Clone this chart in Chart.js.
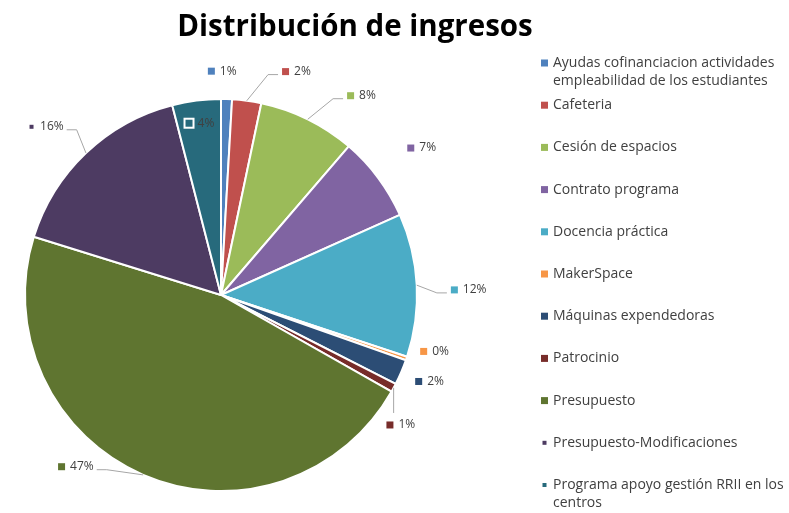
<!DOCTYPE html>
<html>
<head>
<meta charset="utf-8">
<script src="https://cdn.jsdelivr.net/npm/chart.js@4.4.0/dist/chart.umd.min.js"></script>
<style>
	html, body { margin: 0; padding: 0; background: #fff; }
	#wrap { width: 789px; height: 513px; position: relative; }
</style>
</head>
<body>
<div id="wrap"><canvas id="chart" width="789" height="513"></canvas></div>
<script>
const chartTitle = "Distribución de ingresos";

const categories = [
	"Ayudas cofinanciacion actividades empleabilidad de los estudiantes",
	"Cafeteria",
	"Cesión de espacios",
	"Contrato programa",
	"Docencia práctica",
	"MakerSpace",
	"Máquinas expendedoras",
	"Patrocinio",
	"Presupuesto",
	"Presupuesto-Modificaciones",
	"Programa apoyo gestión RRII en los centros",
];

// share of total income, in percent
const shares = [0.9, 2.4, 8.0, 7.0, 11.8, 0.3, 2.1, 0.7, 46.6, 16.2, 4.0];

const colors = [
	"#4f81bd", "#c0504d", "#9bbb59", "#8064a2", "#4bacc6", "#f79646",
	"#2c4d75", "#772c2a", "#5f7530", "#4d3b62", "#276a7c",
];

// label placement: [angle shift from slice middle (deg), distance / radius, leader]
// leader: 0 none, 1 to side of label, 2 to top of label, 3 inside slice
const labelLayout = [
	[-1.3, 1.142, 0],
	[11.1, 1.203, 1],
	[8.9, 1.244, 1],
	[0.5, 1.269, 0],
	[1.7, 1.264, 1],
	[-4.1, 1.127, 0],
	[-0.7, 1.152, 0],
	[7.6, 1.132, 2],
	[16.8, 1.147, 1],
	[-2.6, 1.239, 1],
	[0.2, 0.883, 3],
];

const textColor = "#404040";
const fontFamily = "'Open Sans', 'Liberation Sans', sans-serif";

const wrapText = (ctx, text, maxWidth) => {
	const words = text.split(" ");
	const lines = [];
	let line = "";
	words.forEach(w => {
		const test = line ? line + " " + w : w;
		if (ctx.measureText(test).width > maxWidth && line) {
			lines.push(line);
			line = w;
		} else {
			line = test;
		}
	});
	if (line) lines.push(line);
	return lines;
};

const decorPlugin = {
	id: "decor",
	afterDraw(chart) {
		const ctx = chart.ctx;
		ctx.save();

		// title
		ctx.fillStyle = "#000";
		ctx.font = `bold 29.5px ${fontFamily}`;
		ctx.textAlign = "center";
		ctx.textBaseline = "middle";
		ctx.fillText(chartTitle, 355, 28);

		// data labels
		const meta = chart.getDatasetMeta(0);
		const total = shares.reduce((a, b) => a + b, 0);
		ctx.font = `12px ${fontFamily}`;
		ctx.textBaseline = "middle";
		meta.data.forEach((arc, i) => {
			const { x, y, startAngle, endAngle, outerRadius } = arc.getProps(
				["x", "y", "startAngle", "endAngle", "outerRadius"], true);
			const mid = (startAngle + endAngle) / 2;
			const [shift, dist, leader] = labelLayout[i];
			const a = mid + shift * Math.PI / 180;
			const lx = x + Math.cos(a) * outerRadius * dist;
			const ly = y + Math.sin(a) * outerRadius * dist;
			const text = Math.round(shares[i] / total * 100) + "%";
			const tw = ctx.measureText(text).width;
			const box = 7, gap = 5;
			const gw = box + gap + tw;
			const left = lx - gw / 2;

			if (leader === 1 || leader === 2) {
				const ex = x + Math.cos(mid) * outerRadius;
				const ey = y + Math.sin(mid) * outerRadius;
				ctx.strokeStyle = "#a6a6a6";
				ctx.lineWidth = 1;
				ctx.beginPath();
				ctx.moveTo(ex, ey);
				if (leader === 1) {
					const toRight = lx < ex;
					const sx = toRight ? left + gw + 3 : left - 4;
					ctx.lineTo(sx + (toRight ? 10 : -10), ly + 3);
					ctx.lineTo(sx, ly + 3);
				} else {
					ctx.lineTo(ex, ly - 12);
				}
				ctx.stroke();
			}

			if (leader === 3) {
				ctx.fillStyle = "#fff";
				ctx.fillRect(left - 2, ly - box / 2 - 2, box + 4, box + 4);
			}
			ctx.fillStyle = colors[i];
			const small = i >= 9 && leader !== 3;
			const bs = small ? 4 : box;
			ctx.fillRect(left + (box - bs) / 2, ly - bs / 2, bs, bs);
			ctx.fillStyle = textColor;
			ctx.textAlign = "left";
			ctx.fillText(text, left + box + gap, ly);
		});

		// legend
		ctx.font = `14px ${fontFamily}`;
		ctx.textAlign = "left";
		ctx.textBaseline = "middle";
		categories.forEach((cat, i) => {
			const y0 = 63 + i * 42.2;
			const bs = i >= 9 ? 4 : 7;
			ctx.fillStyle = colors[i];
			ctx.fillRect(541 + (7 - bs) / 2, y0 - bs / 2, bs, bs);
			ctx.fillStyle = textColor;
			wrapText(ctx, cat, 235).forEach((line, k) => {
				ctx.fillText(line, 553, y0 + k * 18);
			});
		});

		ctx.restore();
	},
};

new Chart(document.querySelector("#chart"), {
	type: "pie",
	data: {
		labels: categories,
		datasets: [{
			data: shares,
			backgroundColor: colors,
			borderColor: "#ffffff",
			borderWidth: 2,
		}],
	},
	options: {
		responsive: false,
		animation: false,
		events: [],
		layout: { padding: { left: 24, right: 371, top: 98, bottom: 21 } },
		plugins: {
			legend: { display: false },
			tooltip: { enabled: false },
			title: { display: false },
		},
	},
	plugins: [decorPlugin],
});
</script>
</body>
</html>
